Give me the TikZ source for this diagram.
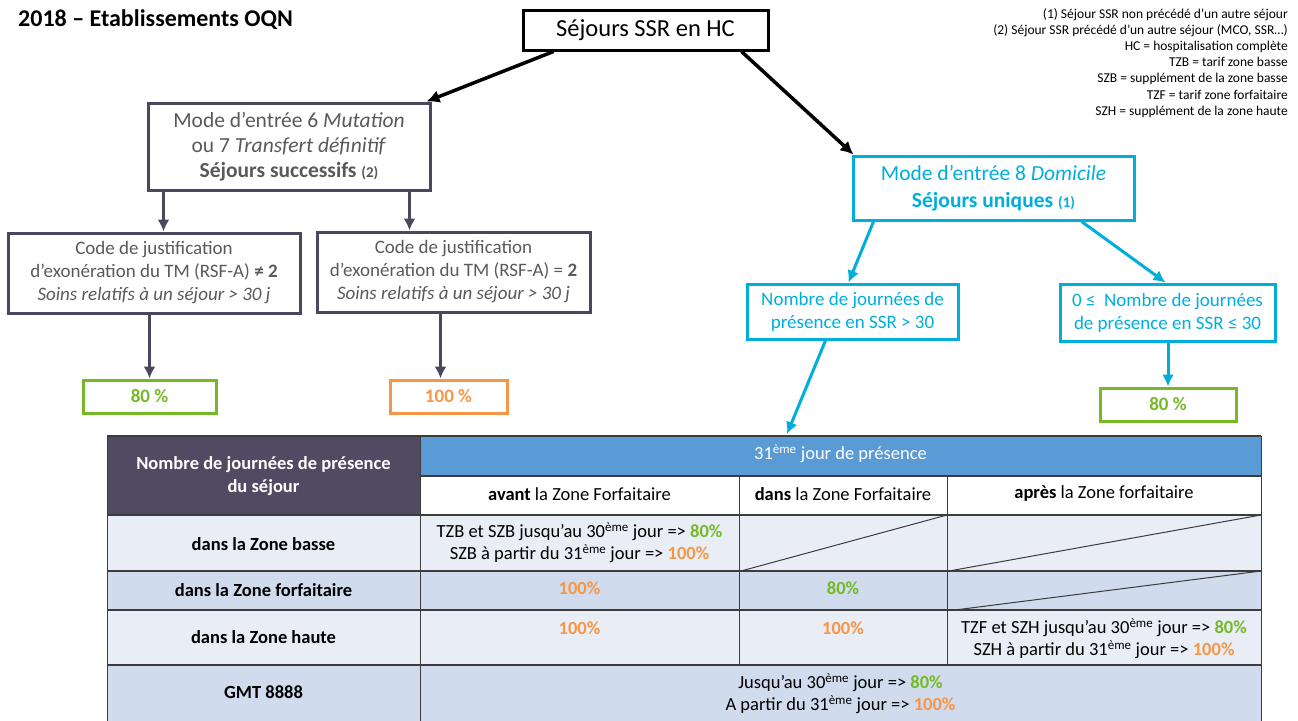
\documentclass[tikz,border=0pt]{standalone}
\usepackage{fontspec}
\setmainfont{Carlito}
\usetikzlibrary{arrows.meta}
\definecolor{ardoise}{RGB}{74,72,94}
\definecolor{grisTxt}{RGB}{89,89,89}
\definecolor{cyanOQN}{RGB}{0,174,219}
\definecolor{vertOQN}{RGB}{118,185,40}
\definecolor{orangeOQN}{RGB}{247,150,70}
\definecolor{bleuTab}{RGB}{91,155,213}
\definecolor{violetTab}{RGB}{80,74,98}
\definecolor{clairTab}{RGB}{233,237,245}
\definecolor{moyenTab}{RGB}{208,219,238}
\definecolor{trait}{RGB}{60,60,60}
\newcommand{\pcvert}[1]{\textcolor{vertOQN}{\textbf{#1}}}
\newcommand{\pcorange}[1]{\textcolor{orangeOQN}{\textbf{#1}}}
\newcommand{\eme}{\textsuperscript{ème}}
\tikzset{
  boite/.style    = {shape=rectangle, draw, line width=3pt, align=center, inner sep=0pt},
  hcbox/.style    = {boite, draw=black, font=\fontsize{24.5}{28}\selectfont},
  grisbox/.style  = {boite, draw=ardoise, text=grisTxt},
  cyanbox/.style  = {boite, draw=cyanOQN, text=cyanOQN},
  pctbox/.style   = {boite, minimum height=33pt, font=\bfseries\fontsize{19}{22}\selectfont},
  fleche/.style   = {line width=3.5pt, -{Latex[length=13pt,width=13pt]}},
  fgris/.style    = {line width=3pt, draw=ardoise, -{Latex[length=12pt,width=12pt]}},
  fcyan/.style    = {line width=3pt, draw=cyanOQN, -{Latex[length=12pt,width=12pt]}},
  grille/.style   = {draw=trait, line width=1.6pt},
  grillev/.style  = {draw=trait, line width=1pt},
  cellule/.style  = {align=center, inner sep=0pt, font=\fontsize{18.5}{22}\selectfont}
}
\begin{document}
\begin{tikzpicture}
  [
    x = 1pt,
    y = -1pt
  ]
  \useasboundingbox (0,0) rectangle (1298,720);

  \node [anchor=base west, inner sep=0pt, font=\bfseries\fontsize{24}{28}\selectfont] (titre) at (18,27) {2018 – Etablissements OQN};
  \node [anchor=north east, inner sep=0pt, align=right, font=\fontsize{13.5}{16.2}\selectfont] (legende) at (1288,8)
    {(1) Séjour SSR non précédé d’un autre séjour\\
     (2) Séjour SSR précédé d’un autre séjour (MCO, SSR…)\\
     HC = hospitalisation complète\\
     TZB = tarif zone basse\\
     SZB = supplément de la zone basse\\
     TZF = tarif zone forfaitaire\\
     SZH = supplément de la zone haute};

  \node [hcbox, minimum width=245pt, minimum height=40pt] (hc) at (645.5,30) {Séjours SSR en HC};
  \node [grisbox, minimum width=282pt, minimum height=87pt, font=\fontsize{21.5}{25}\selectfont] (mut) at (289,146.5)
    {Mode d’entrée 6 \textit{Mutation}\\ou 7 \textit{Transfert définitif}\\\textbf{Séjours successifs {\fontsize{15}{15}\selectfont(2)}}};
  \node [cyanbox, minimum width=281pt, minimum height=64pt, font=\fontsize{21.5}{27}\selectfont] (dom) at (993.5,188)
    {Mode d’entrée 8 \textit{Domicile}\\\textbf{Séjours uniques {\fontsize{15}{15}\selectfont(1)}}};

  \node [grisbox, minimum width=292pt, minimum height=80pt, font=\fontsize{19}{23}\selectfont] (code1) at (154,273)
    {Code de justification\\d’exonération du TM (RSF-A) \textbf{≠ 2}\\\textit{Soins relatifs à un séjour > 30 j}};
  \node [grisbox, minimum width=273pt, minimum height=80pt, font=\fontsize{19}{23}\selectfont] (code2) at (453.5,272)
    {Code de justification\\d’exonération du TM (RSF-A) = \textbf{2}\\\textit{Soins relatifs à un séjour > 30 j}};
  \node [pctbox, draw=vertOQN, text=vertOQN, minimum width=133pt] (p80a) at (149.5,396.5) {80 \%};
  \node [pctbox, draw=orangeOQN, text=orangeOQN, minimum width=117pt] (p100) at (448.5,396.5) {100 \%};

  \node [cyanbox, minimum width=211pt, minimum height=55pt, font=\fontsize{19}{23}\selectfont] (nb30) at (852.5,311.5)
    {Nombre de journées de\\présence en SSR > 30};
  \node [cyanbox, minimum width=215pt, minimum height=57pt, font=\fontsize{19}{23}\selectfont] (nb30b) at (1167.5,312.5)
    {0 ≤ \ Nombre de journées\\de présence en SSR ≤ 30};
  \node [pctbox, draw=vertOQN, text=vertOQN, minimum width=136pt] (p80b) at (1168,404.5) {80 \%};

  \coordinate (tab) at (787,434);

  \draw [fleche] ([xshift=32pt]hc.south west) -- ([xshift=-5pt]mut.north east);
  \draw [fleche] ([xshift=-28pt]hc.south east) -- ([xshift=2pt]dom.north west);
  \draw [fgris] ([xshift=17pt]mut.south west) -- ([xshift=17pt]mut.south west |- code1.north);
  \draw [fgris] ([xshift=-22pt]mut.south east) -- ([xshift=-22pt]mut.south east |- code2.north);
  \draw [fgris] (p80a.north |- code1.south) -- (p80a.north);
  \draw [fgris] ([xshift=-8pt]p100.north |- code2.south) -- ([xshift=-8pt]p100.north);
  \draw [fcyan] ([xshift=22pt]dom.south west) -- ([xshift=-4pt]nb30.north);
  \draw [fcyan] ([xshift=-54pt]dom.south east) -- ([xshift=-2pt]nb30b.north);
  \draw [fcyan] ([xshift=-27pt]nb30.south) -- (tab);
  \draw [fcyan] (p80b.north |- nb30b.south) -- (p80b.north);

  % tableau
  \fill [violetTab] (107,436) rectangle (420,515);
  \fill [bleuTab] (420,436) rectangle (1261,476);
  \fill [white] (420,476) rectangle (1261,515);
  \fill [clairTab] (107,515) rectangle (1261,571);
  \fill [moyenTab] (107,571) rectangle (1261,610);
  \fill [clairTab] (107,610) rectangle (1261,665);
  \fill [moyenTab] (107,665) rectangle (1261,722);
  \foreach \y in {436,515,571,610,665}
    \draw [grille] (107,\y) -- (1261,\y);
  \draw [grille] (420,476) -- (1261,476);
  \foreach \x in {107,420,1261}
    \draw [grillev] (\x,436) -- (\x,722);
  \foreach \x in {739,947}
    \draw [grillev] (\x,476) -- (\x,665);
  \draw [grillev] (741,571) -- (947,515);
  \draw [grillev] (949,571) -- (1261,515);
  \draw [grillev] (955,610) -- (1261,571);

  \node [cellule, text=white, font=\bfseries\fontsize{18.5}{23}\selectfont] (entete) at (263.5,476.5)
    {Nombre de journées de présence\\du séjour};
  \node [cellule, text=white] (jour31) at (840.5,454) {31\eme{} jour de présence};
  \node [cellule] (avant) at (579.5,494) {\textbf{avant} la Zone Forfaitaire};
  \node [cellule] (dans) at (843,494) {\textbf{dans} la Zone Forfaitaire};
  \node [cellule] (apres) at (1104,494) {\textbf{après} la Zone forfaitaire};

  \node [cellule, font=\bfseries\fontsize{18.5}{22}\selectfont] (zbasse) at (263.5,544) {dans la Zone basse};
  \node [cellule, font=\bfseries\fontsize{18.5}{22}\selectfont] (zforf) at (263.5,590) {dans la Zone forfaitaire};
  \node [cellule, font=\bfseries\fontsize{18.5}{22}\selectfont] (zhaute) at (263.5,637) {dans la Zone haute};
  \node [cellule, font=\bfseries\fontsize{18.5}{22}\selectfont] (gmt) at (263.5,692) {GMT 8888};

  \node [cellule] (basseAv) at (579.5,543)
    {TZB et SZB jusqu’au 30\eme{} jour => \pcvert{80\%}\\SZB à partir du 31\eme{} jour => \pcorange{100\%}};
  \node [cellule] (forfAv) at (579.5,588) {\pcorange{100\%}};
  \node [cellule] (forfDans) at (843,588) {\pcvert{80\%}};
  \node [cellule] (hauteAv) at (579.5,628) {\pcorange{100\%}};
  \node [cellule] (hauteDans) at (843,628) {\pcorange{100\%}};
  \node [cellule] (hauteAp) at (1104,639)
    {TZF et SZH jusqu’au 30\eme{} jour => \pcvert{80\%}\\SZH à partir du 31\eme{} jour => \pcorange{100\%}};
  \node [cellule] (gmtTout) at (840.5,694)
    {Jusqu’au 30\eme{} jour => \pcvert{80\%}\\A partir du 31\eme{} jour => \pcorange{100\%}};
\end{tikzpicture}
\end{document}
